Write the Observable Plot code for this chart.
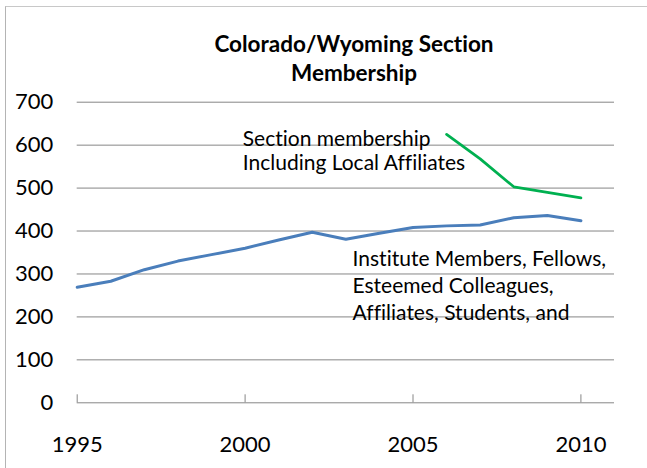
<!DOCTYPE html>
<html>
<head>
<meta charset="utf-8">
<script src="https://cdn.jsdelivr.net/npm/d3@7"></script>
<script src="https://cdn.jsdelivr.net/npm/@observablehq/plot@0.6"></script>
<style>
  html, body { margin: 0; padding: 0; background: #fff; }
  #chart { position: relative; width: 647px; height: 468px; overflow: hidden; font-family: Lato, "Noto Sans", sans-serif; color: #000; font-variant-ligatures: none; }
  #chart svg, #chart svg text { font-variant-ligatures: none; }
  #frame { position: absolute; left: 5px; top: 6px; right: -2px; bottom: -2px; border-top: 1px solid #c8c8c8; border-left: 1px solid #b4b4b4; pointer-events: none; }
  #title { position: absolute; left: 61px; right: 0; top: 29px; text-align: center; font-weight: bold; font-size: 22.5px; line-height: 29px; }
  #plot svg { display: block; }
</style>
</head>
<body>
<div id="chart">
  <div id="frame"></div>
  <div id="plot"></div>
  <div id="title">Colorado/Wyoming Section<br>Membership</div>
</div>
<script>
const years = [1995, 1996, 1997, 1998, 1999, 2000, 2001, 2002, 2003, 2004, 2005, 2006, 2007, 2008, 2009, 2010];
const instituteMembers = [269, 283, 310, 330, 345, 360, 379, 397, 381, 395, 408, 412, 414, 431, 436, 424];
const sectionYears = [2006, 2007, 2008, 2009, 2010];
const sectionMembership = [625, 568, 503, 490, 477];
const xTicks = [1995, 2000, 2005, 2010];
const yTicks = [0, 100, 200, 300, 400, 500, 600, 700];
const labelSection = "Section membership\nIncluding Local Affiliates";
const labelInstitute = "Institute Members, Fellows,\nEsteemed Colleagues,\nAffiliates, Students, and";

const blue = years.map((y, i) => ({year: y, value: instituteMembers[i]}));
const green = sectionYears.map((y, i) => ({year: y, value: sectionMembership[i]}));

const chart = Plot.plot({
  width: 647,
  height: 468,
  marginTop: 101.7,
  marginBottom: 65.7,
  marginLeft: 76.7,
  marginRight: 33,
  style: {fontFamily: "Lato, 'Noto Sans', sans-serif", fontSize: "22px", color: "#000", background: "transparent"},
  x: {domain: [1995, 2011]},
  y: {domain: [0, 700]},
  marks: [
    Plot.gridY(yTicks, {stroke: "#868686", strokeOpacity: 1, strokeWidth: 1}),
    Plot.axisY(yTicks, {tickSize: 0, tickPadding: 24, label: null, fontSize: 22}),
    Plot.axisX(xTicks, {tickSize: 0, tickPadding: 34, label: null, tickFormat: d => String(d), fontSize: 22}),
    Plot.axisX(xTicks, {tickSize: 8, dy: -8, text: null, label: null, stroke: "#868686"}),
    Plot.line(blue, {x: "year", y: "value", stroke: "#4a7ebb", strokeWidth: 3}),
    Plot.line(green, {x: "year", y: "value", stroke: "#00b050", strokeWidth: 2.75}),
    Plot.text([labelSection], {x: 1999.93, y: 639, text: d => d, textAnchor: "start", lineAnchor: "top", lineHeight: 1.15, fontSize: 21, fill: "#000"}),
    Plot.text([labelInstitute], {x: 2003.2, y: 363, text: d => d, textAnchor: "start", lineAnchor: "top", lineHeight: 1.29, fontSize: 21, fill: "#000"})
  ]
});
document.getElementById("plot").appendChild(chart);
</script>
</body>
</html>
